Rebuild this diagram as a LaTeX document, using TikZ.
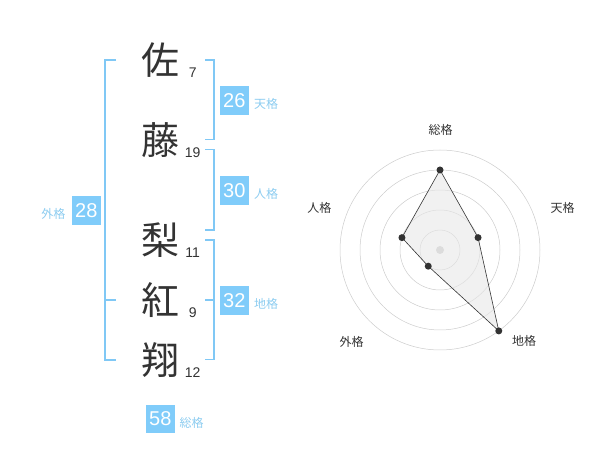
\documentclass[tikz,border=0pt]{standalone}
\usepackage{fontspec}
\usetikzlibrary{calc}
\setmainfont{Liberation Sans}
\newfontfamily\cjk{Noto Sans CJK JP}
\definecolor{boxblue}{RGB}{128,204,250}
\definecolor{brblue}{RGB}{128,200,245}
\definecolor{lblblue}{RGB}{140,204,240}
\definecolor{ink}{RGB}{51,51,51}
\definecolor{ringgray}{RGB}{204,204,204}
\tikzset{
  kanji/.style={font=\cjk\fontsize{38}{38}\selectfont, text=ink, inner sep=0pt},
  strokenum/.style={font=\fontsize{14}{14}\selectfont, text=ink, inner sep=0pt},
  scorebox/.style={fill=boxblue, text=white, minimum width=28.7pt, minimum height=28.7pt, inner sep=0pt, font=\fontsize{20}{20}\selectfont},
  scorelabel/.style={text=lblblue, inner sep=0pt, font=\cjk\fontsize{12}{12}\selectfont},
  bracket/.style={draw=brblue, line width=1.6pt},
  ring/.style={draw=ringgray, line width=0.5pt},
  axislabel/.style={text=ink, inner sep=0pt, font=\cjk\fontsize{12}{12}\selectfont},
  dot/.style={circle, fill=ink, inner sep=0pt, minimum size=7pt},
}
\begin{document}
\begin{tikzpicture}[x=1pt,y=-1pt]
\useasboundingbox (0,0) rectangle (600,470);
% name characters
\node[kanji] (k1) at (160,60) {佐};
\node[kanji] (k2) at (160,140) {藤};
\node[kanji] (k3) at (160,240) {梨};
\node[kanji] (k4) at (160,300) {紅};
\node[kanji] (k5) at (160,360) {翔};
\node[strokenum] (n1) at (192.7,72.7) {7};
\node[strokenum] (n2) at (192.7,152.7) {19};
\node[strokenum] (n3) at (192.7,252.7) {11};
\node[strokenum] (n4) at (192.7,312.7) {9};
\node[strokenum] (n5) at (192.7,372.7) {12};
% brackets
\draw[bracket] (116,60) -- (105,60) -- (105,360) -- (116,360);
\draw[bracket] (105,300) -- (116,300);
\draw[bracket] (205,60) -- (214,60) -- (214,139.5) -- (205,139.5);
\draw[bracket] (205,149.5) -- (214,149.5) -- (214,230) -- (205,230);
\draw[bracket] (205,240) -- (214,240) -- (214,359.5) -- (205,359.5);
\draw[bracket] (205,300) -- (214,300);
% scores
\node[scorebox] (s1) at (234.3,100.3) {26};
\node[scorelabel] (l1) at (266,104) {天格};
\node[scorebox] (s2) at (234.3,190.3) {30};
\node[scorelabel] (l2) at (266,194) {人格};
\node[scorebox] (s3) at (234.3,300.7) {32};
\node[scorelabel] (l3) at (266,304) {地格};
\node[scorebox] (s4) at (86.3,210.3) {28};
\node[scorelabel] (l4) at (53.3,214) {外格};
\node[scorebox] (s5) at (160.3,419) {58};
\node[scorelabel] (l5) at (191.7,423) {総格};
% radar chart
\coordinate (c) at (440,250);
\foreach \r in {20,40,60,80,100} \draw[ring] (c) circle (\r);
\fill[ringgray] (c) circle (4);
\coordinate (pS) at ($(c)+(0,-80)$);
\coordinate (pT) at ($(c)+({40*cos(18)},{-40*sin(18)})$);
\coordinate (pC) at ($(c)+({100*cos(54)},{100*sin(54)})$);
\coordinate (pG) at ($(c)+({-20*cos(54)},{20*sin(54)})$);
\coordinate (pJ) at ($(c)+({-40*cos(18)},{-40*sin(18)})$);
\filldraw[fill=gray!18, fill opacity=0.6, draw=ink, line width=0.6pt] (pS) -- (pT) -- (pC) -- (pG) -- (pJ) -- cycle;
\foreach \p in {pS,pT,pC,pG,pJ} \node[dot] at (\p) {};
\node[axislabel] (aS) at (440.7,130) {総格};
\node[axislabel] (aT) at (562.7,208.3) {天格};
\node[axislabel] (aJ) at (319.3,208.3) {人格};
\node[axislabel] (aG) at (351.7,341.7) {外格};
\node[axislabel] (aC) at (524,341.3) {地格};
\end{tikzpicture}
\end{document}
